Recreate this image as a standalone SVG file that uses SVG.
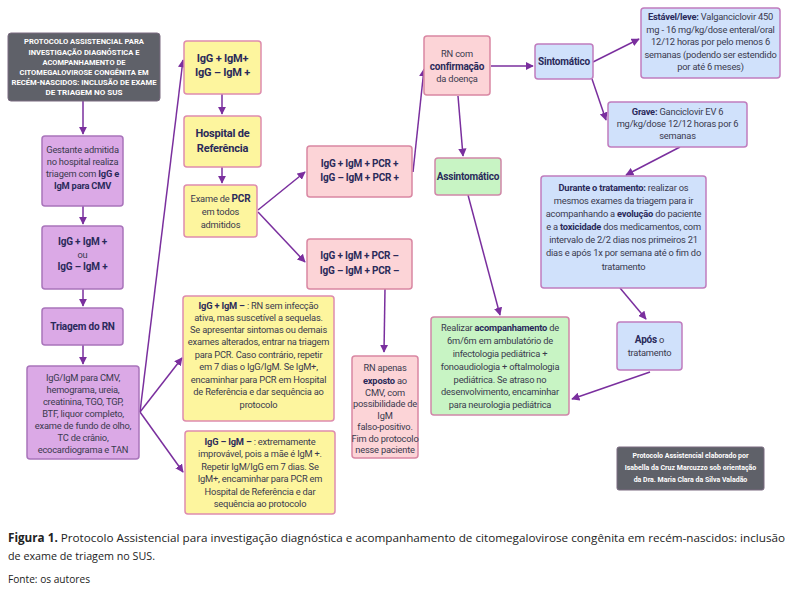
<svg xmlns="http://www.w3.org/2000/svg" width="795" height="593" viewBox="0 0 795 593">
<style>
  text { font-family: Roboto, "Liberation Sans", sans-serif; fill: #3a3a4e; text-anchor: middle; }
  .t { font-size: 9.3px; letter-spacing: -0.2px; }
  .tb { font-size: 10px; font-weight: bold; fill: #2a2a5a; letter-spacing: -0.2px; }
  .tl { font-size: 11px; font-weight: bold; fill: #2a2a5a; letter-spacing: -0.2px; }
  .b { font-weight: bold; fill: #2a2a5a; }
  .hd { font-size: 8px; font-weight: bold; fill: #ffffff; }
  .cr { font-size: 7px; font-weight: bold; fill: #ffffff; }
  .pu { fill: #dba9e6; stroke: #a974bb; stroke-width: 1.5; }
  .ye { fill: #fdf59e; stroke: #de8cae; stroke-width: 1.5; }
  .pk { fill: #fcd4d7; stroke: #d987a3; stroke-width: 1.5; }
  .gr { fill: #c8f4c4; stroke: #d087a8; stroke-width: 1.5; }
  .bl { fill: #d0e1fb; stroke: #c07cbe; stroke-width: 1.5; }
  .gy { fill: #5f6169; stroke: #7a6a80; stroke-width: 1; }
  .cap { font-family: "Open Sans", "Liberation Sans", sans-serif; text-anchor: start; fill: #222; font-size: 11.5px; }
  #connectors line { stroke: #7a2f9e; stroke-width: 1.5; fill: none; marker-end: url(#ah); }
</style>
<defs>
  <marker id="ah" viewBox="0 0 10 10" refX="9" refY="5" markerWidth="5.5" markerHeight="5.5" orient="auto" markerUnits="strokeWidth">
    <path d="M0,0 L10,5 L0,10 z" fill="#7a2f9e"/>
  </marker>
</defs>
<rect width="795" height="593" fill="#ffffff"/>

<g id="connectors">
  <line x1="83" y1="101" x2="83" y2="134"/>
  <line x1="83" y1="206" x2="83" y2="224"/>
  <line x1="83" y1="289" x2="83" y2="306"/>
  <line x1="83" y1="345" x2="83" y2="364"/>
  <line x1="140" y1="412" x2="183" y2="60"/>
  <line x1="140" y1="412" x2="182" y2="358"/>
  <line x1="140" y1="412" x2="183" y2="472"/>
  <line x1="222" y1="94" x2="222" y2="114"/>
  <line x1="222" y1="167" x2="222" y2="183"/>
  <line x1="258" y1="210" x2="305" y2="172"/>
  <line x1="258" y1="212" x2="305" y2="262"/>
  <line x1="385" y1="289" x2="384" y2="352"/>
  <line x1="413" y1="172" x2="424" y2="69"/>
  <line x1="491" y1="66" x2="533" y2="66"/>
  <line x1="458" y1="96" x2="463" y2="156"/>
  <line x1="468" y1="195" x2="500" y2="315"/>
  <line x1="593" y1="62" x2="639" y2="39"/>
  <line x1="592" y1="79" x2="606" y2="120"/>
  <line x1="680" y1="147" x2="626" y2="175"/>
  <line x1="620" y1="288" x2="646" y2="319"/>
  <line x1="650" y1="372" x2="572" y2="399"/>
</g>

<g id="title">
  <rect class="gy" x="8" y="33" width="152" height="68" rx="3"/>
  <text class="hd" x="84" y="44" textLength="120" lengthAdjust="spacingAndGlyphs">PROTOCOLO ASSISTENCIAL PARA</text>
  <text class="hd" x="84" y="54.5" textLength="111" lengthAdjust="spacingAndGlyphs">INVESTIGAÇÃO DIAGNÓSTICA E</text>
  <text class="hd" x="84" y="64.5" textLength="83" lengthAdjust="spacingAndGlyphs">ACOMPANHAMENTO DE</text>
  <text class="hd" x="84" y="74.5" textLength="129" lengthAdjust="spacingAndGlyphs">CITOMEGALOVIROSE CONGÊNITA EM</text>
  <text class="hd" x="84" y="84.5" textLength="145" lengthAdjust="spacingAndGlyphs">RECÉM-NASCIDOS: INCLUSÃO DE EXAME</text>
  <text class="hd" x="84" y="95" textLength="77" lengthAdjust="spacingAndGlyphs">DE TRIAGEM NO SUS</text>
</g>

<g id="gestante">
  <rect class="pu" x="42" y="136" width="81" height="70" rx="3"/>
  <text class="t" x="82.5" y="153">Gestante admitida</text>
  <text class="t" x="82.5" y="165">no hospital realiza</text>
  <text class="t" x="82.5" y="177">triagem com <tspan class="b">IgG e</tspan></text>
  <text class="t" x="82.5" y="189"><tspan class="b">IgM para CMV</tspan></text>
</g>

<g id="igg-mae">
  <rect class="pu" x="42" y="226" width="81" height="63" rx="3"/>
  <text class="tb" x="82.5" y="245">IgG + IgM +</text>
  <text class="t" x="82.5" y="258">ou</text>
  <text class="tb" x="82.5" y="270">IgG – IgM +</text>
</g>

<g id="triagem-rn">
  <rect class="pu" x="42" y="308" width="81" height="37" rx="3"/>
  <text class="tb" x="82.5" y="330">Triagem do RN</text>
</g>

<g id="exames-rn">
  <rect class="pu" x="27" y="366" width="112" height="93" rx="3"/>
  <text class="t" x="83" y="381">IgG/IgM para CMV,</text>
  <text class="t" x="83" y="393">hemograma, ureia,</text>
  <text class="t" x="83" y="405">creatinina, TGO, TGP,</text>
  <text class="t" x="83" y="417">BTF, liquor completo,</text>
  <text class="t" x="83" y="429">exame de fundo de olho,</text>
  <text class="t" x="83" y="441">TC de crânio,</text>
  <text class="t" x="83" y="453">ecocardiograma e TAN</text>
</g>

<g id="igm-pos">
  <rect class="ye" x="184" y="41" width="77" height="53" rx="3"/>
  <text class="tl" x="222.5" y="62">IgG + IgM+</text>
  <text class="tl" x="222.5" y="76">IgG – IgM +</text>
</g>

<g id="hospital">
  <rect class="ye" x="184" y="116" width="77" height="51" rx="3"/>
  <text class="tl" x="222.5" y="137">Hospital de</text>
  <text class="tl" x="222.5" y="152">Referência</text>
</g>

<g id="pcr">
  <rect class="ye" x="184" y="185" width="73" height="52" rx="3"/>
  <text class="t" x="220.5" y="202">Exame de <tspan class="b" font-size="10">PCR</tspan></text>
  <text class="t" x="220.5" y="215">em todos</text>
  <text class="t" x="220.5" y="228">admitidos</text>
</g>

<g id="igg-pos-igm-neg">
  <rect class="ye" x="183" y="296" width="151" height="125" rx="3"/>
  <text class="t" x="258.5" y="309"><tspan class="b">IgG + IgM – </tspan>: RN sem infecção</text>
  <text class="t" x="258.5" y="321">ativa, mas suscetível a sequelas.</text>
  <text class="t" x="258.5" y="333">Se apresentar sintomas ou demais</text>
  <text class="t" x="258.5" y="345">exames alterados, entrar na triagem</text>
  <text class="t" x="258.5" y="358">para PCR. Caso contrário, repetir</text>
  <text class="t" x="258.5" y="370">em 7 dias o IgG/IgM. Se IgM+,</text>
  <text class="t" x="258.5" y="383">encaminhar para PCR em Hospital</text>
  <text class="t" x="258.5" y="395">de Referência e dar sequência ao</text>
  <text class="t" x="258.5" y="408">protocolo</text>
</g>

<g id="igg-neg-igm-neg">
  <rect class="ye" x="185" y="431" width="150" height="83" rx="3"/>
  <text class="t" x="260" y="445"><tspan class="b">IgG – IgM – </tspan>: extremamente</text>
  <text class="t" x="260" y="457">improvável, pois a mãe é IgM +.</text>
  <text class="t" x="260" y="470">Repetir IgM/IgG em 7 dias. Se</text>
  <text class="t" x="260" y="482">IgM+, encaminhar para PCR em</text>
  <text class="t" x="260" y="495">Hospital de Referência e dar</text>
  <text class="t" x="260" y="507">sequência ao protocolo</text>
</g>

<g id="pcr-pos">
  <rect class="pk" x="307" y="146" width="105" height="51" rx="3"/>
  <text class="tb" x="359.5" y="167">IgG + IgM + PCR +</text>
  <text class="tb" x="359.5" y="181">IgG – IgM + PCR +</text>
</g>

<g id="pcr-neg">
  <rect class="pk" x="307" y="239" width="105" height="50" rx="3"/>
  <text class="tb" x="359.5" y="259">IgG + IgM + PCR –</text>
  <text class="tb" x="359.5" y="274">IgG – IgM + PCR –</text>
</g>

<g id="exposto">
  <rect class="pk" x="352" y="356" width="66" height="102" rx="3"/>
  <text class="t" x="385" y="371">RN apenas</text>
  <text class="t" x="385" y="384"><tspan class="b">exposto</tspan> ao</text>
  <text class="t" x="385" y="396">CMV, com</text>
  <text class="t" x="385" y="407">possibilidade de</text>
  <text class="t" x="385" y="419">IgM</text>
  <text class="t" x="385" y="430">falso-positivo.</text>
  <text class="t" x="385" y="442">Fim do protocolo</text>
  <text class="t" x="385" y="453">nesse paciente</text>
</g>

<g id="confirmacao">
  <rect class="pk" x="424" y="36" width="66" height="59" rx="3"/>
  <text class="t" x="457" y="57">RN com</text>
  <text class="t" x="457" y="70"><tspan class="b" font-size="10">confirmação</tspan></text>
  <text class="t" x="457" y="82">da doença</text>
</g>

<g id="sintomatico">
  <rect class="bl" x="535" y="44" width="58" height="35" rx="3"/>
  <text class="tb" x="564" y="65">Sintomático</text>
</g>

<g id="assintomatico">
  <rect class="gr" x="435" y="158" width="66" height="37" rx="3"/>
  <text class="tb" x="468" y="180">Assintomático</text>
</g>

<g id="estavel">
  <rect class="bl" x="641" y="8" width="139" height="70" rx="3"/>
  <text class="t" x="710.5" y="20"><tspan class="b">Estável/leve:</tspan> Valganciclovir 450</text>
  <text class="t" x="710.5" y="33">mg - 16 mg/kg/dose enteral/oral</text>
  <text class="t" x="710.5" y="45">12/12 horas por pelo menos 6</text>
  <text class="t" x="710.5" y="58">semanas (podendo ser estendido</text>
  <text class="t" x="710.5" y="70">por até 6 meses)</text>
</g>

<g id="grave">
  <rect class="bl" x="608" y="102" width="139" height="45" rx="3"/>
  <text class="t" x="677.5" y="115"><tspan class="b">Grave:</tspan> Ganciclovir EV 6</text>
  <text class="t" x="677.5" y="127">mg/kg/dose 12/12 horas por 6</text>
  <text class="t" x="677.5" y="139">semanas</text>
</g>

<g id="durante">
  <rect class="bl" x="541" y="176" width="165" height="112" rx="3"/>
  <text class="t" x="623.5" y="191"><tspan class="b">Durante o tratamento:</tspan> realizar os</text>
  <text class="t" x="623.5" y="204">mesmos exames da triagem para ir</text>
  <text class="t" x="623.5" y="217">acompanhando a <tspan class="b">evolução</tspan> do paciente</text>
  <text class="t" x="623.5" y="230">e a <tspan class="b">toxicidade</tspan> dos medicamentos, com</text>
  <text class="t" x="623.5" y="243">intervalo de 2/2 dias nos primeiros 21</text>
  <text class="t" x="623.5" y="256">dias e após 1x por semana até o fim do</text>
  <text class="t" x="623.5" y="270">tratamento</text>
</g>

<g id="apos">
  <rect class="bl" x="617" y="322" width="65" height="48" rx="3"/>
  <text class="t" x="649.5" y="343"><tspan class="b" font-size="10">Após</tspan> o</text>
  <text class="t" x="649.5" y="356">tratamento</text>
</g>

<g id="acompanhamento">
  <rect class="gr" x="431" y="317" width="138" height="98" rx="3"/>
  <text class="t" x="500" y="331">Realizar <tspan class="b">acompanhamento</tspan> de</text>
  <text class="t" x="500" y="344">6m/6m em ambulatório de</text>
  <text class="t" x="500" y="357">infectologia pediátrica +</text>
  <text class="t" x="500" y="370">fonoaudiologia + oftalmologia</text>
  <text class="t" x="500" y="383">pediátrica. Se atraso no</text>
  <text class="t" x="500" y="395">desenvolvimento, encaminhar</text>
  <text class="t" x="500" y="408">para neurologia pediátrica</text>
</g>

<g id="credito">
  <rect class="gy" x="617" y="447" width="147" height="43" rx="2"/>
  <text class="cr" x="690.5" y="458">Protocolo Assistencial elaborado por</text>
  <text class="cr" x="690.5" y="470">Isabella da Cruz Marcuzzo sob orientação</text>
  <text class="cr" x="690.5" y="482">da Dra. Maria Clara da Silva Valadão</text>
</g>

<g id="caption">
  <text class="cap" x="8" y="542" textLength="777" lengthAdjust="spacingAndGlyphs"><tspan font-weight="bold">Figura 1.</tspan> Protocolo Assistencial para investigação diagnóstica e acompanhamento de citomegalovirose congênita em recém-nascidos: inclusão</text>
  <text class="cap" x="8" y="560" textLength="147" lengthAdjust="spacingAndGlyphs">de exame de triagem no SUS.</text>
  <text class="cap" x="8" y="583" font-size="10px" textLength="82" lengthAdjust="spacingAndGlyphs">Fonte: os autores</text>
</g>
</svg>
